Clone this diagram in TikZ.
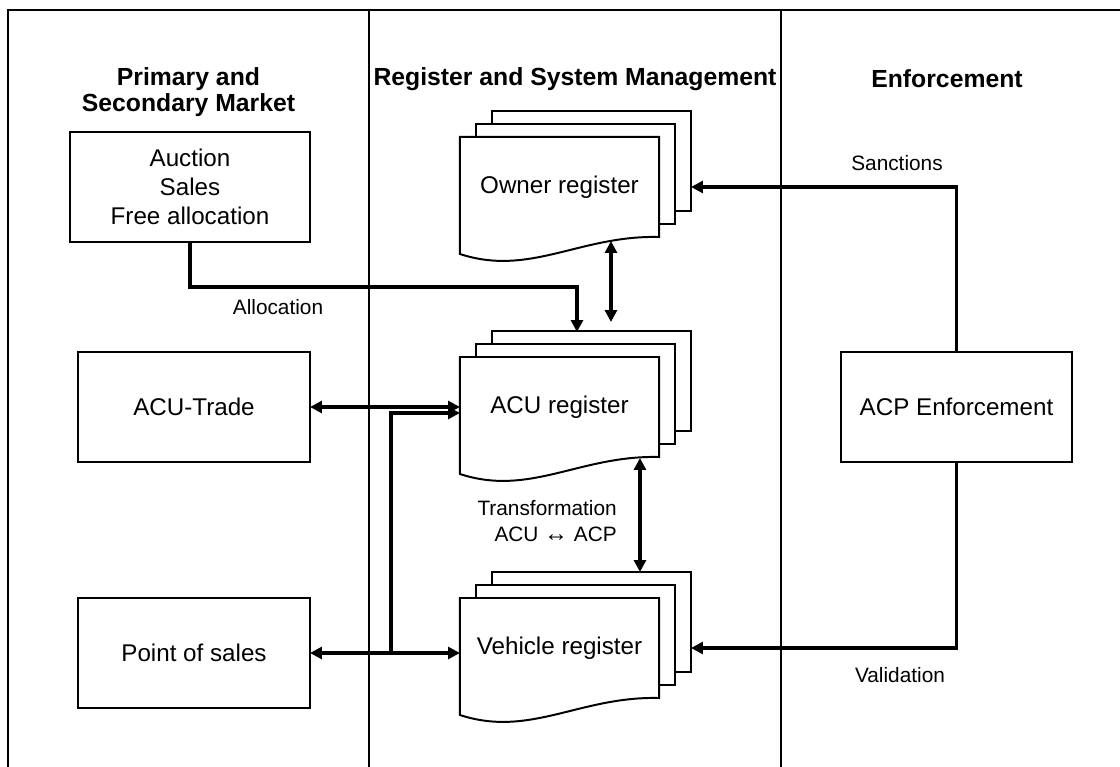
\documentclass[tikz,border=0pt]{standalone}
\usepackage{fontspec}
\setmainfont{Liberation Sans}
\usetikzlibrary{arrows.meta,calc,backgrounds}

% three stacked sheets behind a front "document" node
\newcommand\docsheets[1]{%
  \draw[sheet] ($(#1.north west)+(32,-26)$) rectangle ($(#1.south east)+(32,-26)$);
  \draw[sheet] ($(#1.north west)+(16,-13)$) rectangle ($(#1.south east)+(16,-13)$);
  \draw[sheet] (#1.north west) -- (#1.north east) -- (#1.south east)
    .. controls ($(#1.south west)+(120,-2)$) and ($(#1.south west)+(70,40)$) ..
    ($(#1.south west)+(0,17)$) -- cycle;
}

\begin{document}
\begin{tikzpicture}[x=0.025cm,y=-0.025cm,
  frame/.style={line width=1.5pt},
  head/.style={font=\bfseries\fontsize{17.6pt}{18.5pt}\selectfont,align=center},
  box/.style={draw,line width=1.4pt,inner sep=0pt,outer sep=0pt,
    minimum height=2.75cm,align=center,
    font=\fontsize{17.2pt}{20.6pt}\selectfont},
  docfront/.style={inner sep=0pt,outer sep=0pt,minimum width=4.975cm,
    minimum height=2.5cm,font=\fontsize{17.2pt}{20.6pt}\selectfont},
  sheet/.style={draw,fill=white,line width=1.4pt,line join=miter},
  conn/.style={line width=2.2pt},
  lab/.style={inner sep=0pt,font=\fontsize{14.8pt}{18.5pt}\selectfont,align=right},
  >={Triangle[length=8.5pt,width=8.5pt]}
]
\useasboundingbox (0,0) rectangle (1120,767);

% swimlane frame
\draw[frame] (8,767) -- (8,10) -- (1120,10);
\draw[frame] (369,10) -- (369,767);
\draw[frame] (781,10) -- (781,767);

% lane headings
\node[head] (h1) at (188.5,92) {Primary and\\Secondary Market};
\node[head] (h2) at (575,79) {Register and System Management};
\node[head] (h3) at (947,79) {Enforcement};

% market side
\node[box,minimum width=6cm] (auction) at (190,187) {Auction\\Sales\\Free allocation};
\node[box,minimum width=5.8cm] (trade) at (194,407) {ACU-Trade};
\node[box,minimum width=5.8cm] (pos) at (194,653) {Point of sales};

% enforcement
\node[box,minimum width=5.775cm] (acp) at (956.5,407) {ACP Enforcement};

% registers
\node[docfront] (owner) at (559.5,187) {Owner register};
\node[docfront] (acu) at (559.5,407) {ACU register};
\node[docfront] (vehicle) at (559.5,648) {Vehicle register};
\begin{scope}[on background layer]
  \docsheets{owner}
  \docsheets{acu}
  \docsheets{vehicle}
\end{scope}

% connectors
\coordinate (junc) at (391,653);
\draw[conn,->] (auction.south) -- ++(0,45) -| ($(acu.north west)+(117,-25)$);
\draw[conn,<->] ($(owner.south west)+(151,4)$) -- ($(acu.north west)+(151,-35)$);
\draw[conn,<->] ($(acu.south west)+(180,1)$) -- ($(vehicle.north west)+(180,-26)$);
\draw[conn,<->] (trade.east) -- (trade.east -| acu.west);
\draw[conn,<->] (pos.east) -- (pos.east -| vehicle.west);
\draw[conn,->] (junc) |- ($(acu.west)+(0,6)$);
\draw[conn,->] (acp.north) |- ($(owner.east)+(32,0)$);
\draw[conn,->] (acp.south) |- ($(vehicle.east)+(32,0)$);

% connector labels
\node[lab] (lalloc) at (278,307) {Allocation};
\node[lab] (lsanc) at (897,163) {Sanctions};
\node[lab] (lvalid) at (900,675) {Validation};
\node[lab,anchor=east] (ltrans) at (617,521) {Transformation\\ACU {\fontsize{17pt}{18pt}\selectfont ↔} ACP};
\end{tikzpicture}
\end{document}
